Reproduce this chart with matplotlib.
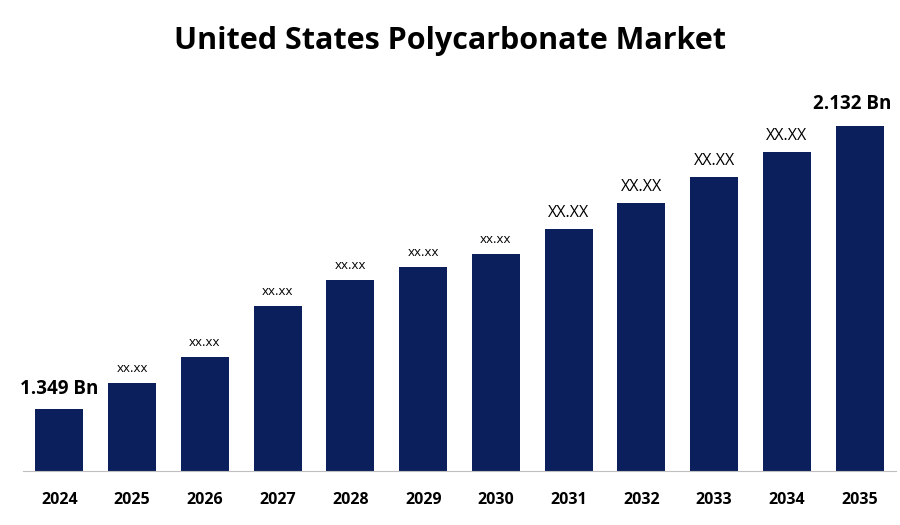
import matplotlib
matplotlib.use("Agg")
import matplotlib.pyplot as plt

years = ["2024","2025","2026","2027","2028","2029","2030","2031","2032","2033","2034","2035"]
values = [62, 88, 114, 165, 191, 204, 217, 242, 268, 294, 319, 345]
labels = ["1.349 Bn","xx.xx","xx.xx","xx.xx","xx.xx","xx.xx","xx.xx","XX.XX","XX.XX","XX.XX","XX.XX","2.132 Bn"]

fig = plt.figure(figsize=(9, 5.25), dpi=100)
ax = fig.add_axes([0.0256, 0.103, 0.97, 0.745])
color = "#0a1f5c"
x = list(range(len(years)))
ax.bar(x, values, width=0.66, color=color)
ax.set_xlim(-0.5, 11.5)
ax.set_ylim(0, 391)
for s in ["top", "right", "left"]:
    ax.spines[s].set_visible(False)
ax.spines["bottom"].set_color("#bfbfbf")
ax.set_yticks([])
ax.set_xticks(x)
ax.set_xticklabels(years, fontfamily="Open Sans", fontweight="bold", fontsize=11.5)
ax.tick_params(axis="x", length=0, pad=15)
for i, (v, l) in enumerate(zip(values, labels)):
    if i == 0:
        ax.text(i, v + 10, l, ha="center", va="bottom", fontsize=13.5, fontweight="bold", fontfamily="Open Sans")
    elif i == 11:
        ax.text(i - 0.1, v + 12, l, ha="center", va="bottom", fontsize=13.5, fontweight="bold", fontfamily="Open Sans")
    elif i >= 7:
        ax.text(i, v + 8, l, ha="center", va="bottom", fontsize=11.5, fontfamily="Open Sans")
    else:
        ax.text(i, v + 8, l, ha="center", va="bottom", fontsize=9.5, fontfamily="Open Sans")
fig.text(0.5, 0.922, "United States Polycarbonate Market", ha="center", va="center",
         fontsize=22, fontweight="bold", fontfamily="Open Sans")
fig.savefig("out.png", dpi=100)
